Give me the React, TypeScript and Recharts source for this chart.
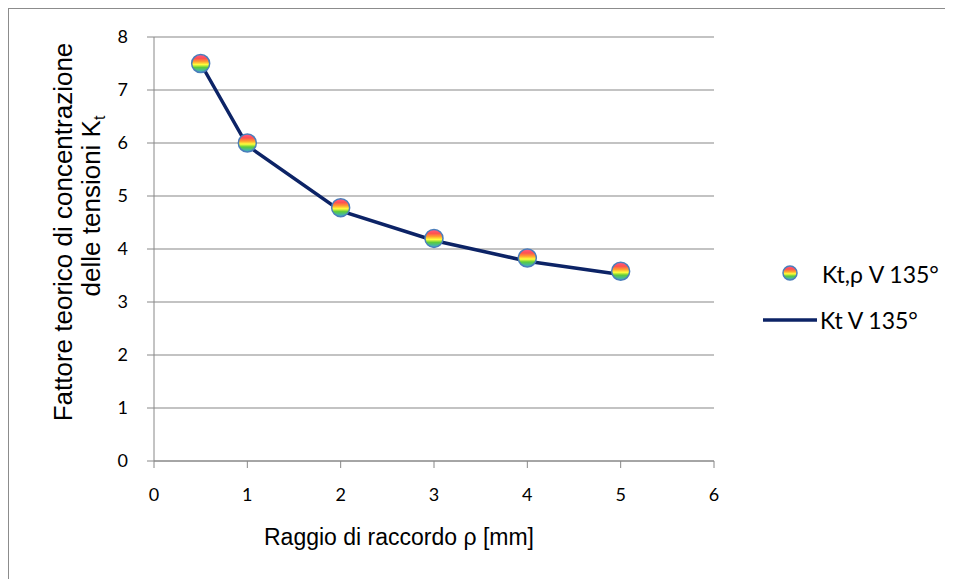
import React from "react";
import { ComposedChart, Line, Scatter, XAxis, YAxis, CartesianGrid } from "recharts";

// raggio di raccordo (mm) and the two Kt series
const rho = [0.5, 1, 2, 3, 4, 5];
const ktMeasured = [7.5, 6.0, 4.78, 4.2, 3.83, 3.58];
const ktCurve = [7.5, 5.95, 4.72, 4.16, 3.77, 3.52];
const xTicks = [0, 1, 2, 3, 4, 5, 6];
const yTicks = [0, 1, 2, 3, 4, 5, 6, 7, 8];

const pointData = rho.map((x, i) => ({ x, y: ktMeasured[i] }));
const curveData = rho.map((x, i) => ({ x, y: ktCurve[i] }));

const GRID = "#888888";
const NAVY = "#0c2366";
const TICK_FONT = "Lato, 'Open Sans', sans-serif";
const TITLE_FONT = "'Liberation Sans', Arial, sans-serif";

function RainbowStops() {
  return (
    <>
      <stop offset="0%" stopColor="#ff5a8c" />
      <stop offset="22%" stopColor="#ff5050" />
      <stop offset="40%" stopColor="#ffa030" />
      <stop offset="56%" stopColor="#ffff3c" />
      <stop offset="72%" stopColor="#5ccc3c" />
      <stop offset="100%" stopColor="#3aa8e0" />
    </>
  );
}

function RainbowDot({ cx, cy, r = 9, id }: { cx: number; cy: number; r?: number; id: string }) {
  return (
    <g>
      <defs>
        <linearGradient id={id} x1="0" y1="0" x2="0" y2="1">
          <RainbowStops />
        </linearGradient>
      </defs>
      <circle cx={cx} cy={cy} r={r} fill={`url(#${id})`} stroke="#4a7ebb" strokeWidth={1.5} />
    </g>
  );
}

export default function App() {
  return (
    <div
      style={{
        position: "relative",
        width: 944,
        height: 570,
        borderTop: "1px solid #8c8c8c",
        borderLeft: "1px solid #8c8c8c",
        background: "#fff",
      }}
    >
      <ComposedChart width={944} height={570} margin={{ top: 28, right: 239, bottom: 88, left: 0 }}>
        <CartesianGrid vertical={false} stroke={GRID} strokeWidth={1.2} />
        <XAxis
          type="number"
          dataKey="x"
          domain={[0, 6]}
          ticks={xTicks}
          height={30}
          stroke={GRID}
          tickSize={7}
          tickMargin={20}
          tick={{ fill: "#000", fontSize: 18, fontFamily: TICK_FONT }}
        />
        <YAxis
          type="number"
          dataKey="y"
          domain={[0, 8]}
          ticks={yTicks}
          width={145}
          stroke={GRID}
          tickSize={7}
          tickMargin={19}
          tick={{ fill: "#000", fontSize: 18, fontFamily: TICK_FONT }}
        />
        <Line
          data={curveData}
          dataKey="y"
          type="linear"
          stroke={NAVY}
          strokeWidth={3.5}
          dot={false}
          activeDot={false}
          isAnimationActive={false}
        />
        <Scatter
          data={pointData}
          dataKey="y"
          isAnimationActive={false}
          shape={(p: any) => <RainbowDot cx={p.cx} cy={p.cy} id={`rb-${p.index}`} />}
        />
      </ComposedChart>

      {/* axis titles */}
      <svg width={944} height={570} style={{ position: "absolute", left: 0, top: 0, pointerEvents: "none" }}>
        <text x={63} y={223} transform="rotate(-90 63 223)" textAnchor="middle" fontFamily={TITLE_FONT} fontSize={26}>
          Fattore teorico di concentrazione
        </text>
        <text x={91} y={197} transform="rotate(-90 91 197)" textAnchor="middle" fontFamily={TITLE_FONT} fontSize={26}>
          delle tensioni K<tspan fontSize={16} dy={5}>t</tspan>
        </text>
        <text x={390} y={528} textAnchor="middle" dominantBaseline="central" fontFamily={TITLE_FONT} fontSize={23}>
          Raggio di raccordo ρ [mm]
        </text>

        {/* legend */}
        <RainbowDot cx={781} cy={264} r={7} id="rb-legend" />
        <text x={813} y={265} dominantBaseline="central" fontFamily={TICK_FONT} fontSize={23}>
          Kt,ρ V 135°
        </text>
        <line x1={754} y1={311} x2={808} y2={311} stroke={NAVY} strokeWidth={3.5} />
        <text x={811} y={311} dominantBaseline="central" fontFamily={TICK_FONT} fontSize={23}>
          Kt V 135°
        </text>
      </svg>
    </div>
  );
}
